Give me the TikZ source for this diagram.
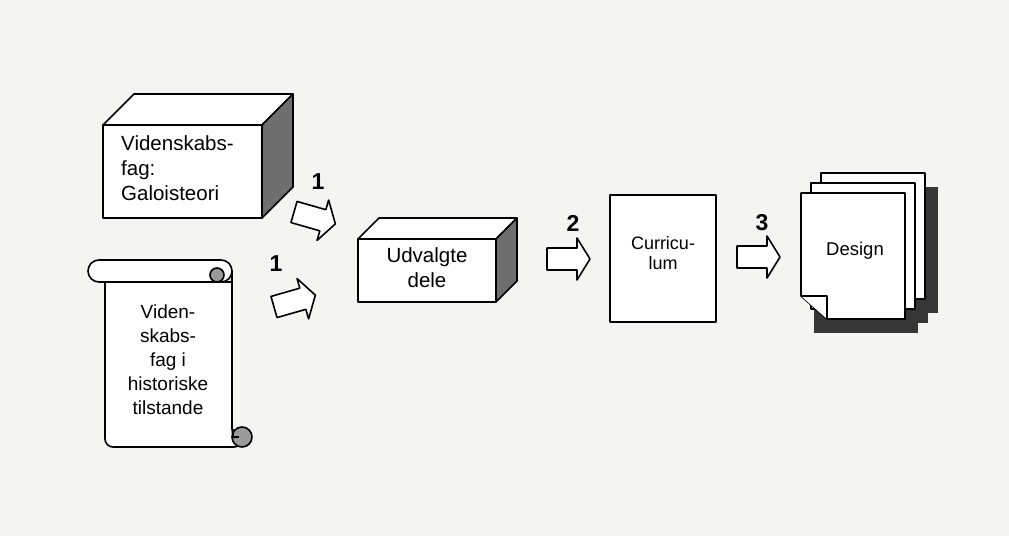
\documentclass[tikz,border=0pt]{standalone}
\usepackage{fontspec}
\setmainfont{Liberation Sans}
\definecolor{paper}{HTML}{F4F4F2}
\definecolor{sideface}{HTML}{6E6E6E}
\definecolor{curlgray}{HTML}{9A9A9A}
\definecolor{dropshadow}{HTML}{363636}
\tikzset{
  outline/.style={draw=black,line width=1.6pt,line join=round},
  boxtext/.style={inner sep=0pt,font=\fontsize{20.5}{25}\selectfont},
  scrolltext/.style={inner sep=0pt,align=center,font=\fontsize{19}{24}\selectfont},
  pagetext/.style={inner sep=0pt,align=center,font=\fontsize{18}{20}\selectfont},
  stepnum/.style={inner sep=0pt,font=\fontsize{23}{23}\selectfont\bfseries},
  blockarrow/.pic={\path[outline,fill=white] (0,-11) -- (30,-11) -- (30,-21) -- (43,0) -- (30,21) -- (30,11) -- (0,11) -- cycle;}
}
\begin{document}
\begin{tikzpicture}[x=1pt,y=-1pt]
\useasboundingbox (0,0) rectangle (1009,536);
\path[fill=paper] (0,0) rectangle (1009,536);
% box: Galoisteori
\path[outline,fill=white] (103,125) -- (134,94) -- (293,94) -- (262,125) -- cycle;
\path[outline,fill=sideface] (262,125) -- (293,94) -- (293,187) -- (262,218) -- cycle;
\path[outline,fill=white] (103,125) rectangle (262,218);
\node[boxtext,align=left,anchor=west] (galois) at (121,168) {Videnskabs-\\fag:\\Galoisteori};
% scroll
\path[outline,fill=white,rounded corners=8] (105,282) -- (105,447) -- (242,447) -- (232,437) [sharp corners] -- (232,282) -- cycle;
\path[outline,fill=curlgray] (242,437) circle (10);
\path[draw=black,line width=1.2pt] (233,429) -- (233,437) -- (239,437);
\path[outline,fill=white,rounded corners=11] (88,282) -- (88,260) -- (232,260) -- (232,282) -- cycle;
\path[draw=black,line width=1.6pt] (232,270) -- (232,290);
\path[outline,fill=curlgray] (217,275) circle (7);
\node[scrolltext] (history) at (168,360) {Viden-\\skabs-\\fag i\\historiske\\tilstande};
% box: Udvalgte dele
\path[outline,fill=white] (358,239) -- (379,218) -- (517,218) -- (496,239) -- cycle;
\path[outline,fill=sideface] (496,239) -- (517,218) -- (517,281) -- (496,302) -- cycle;
\path[outline,fill=white] (358,239) rectangle (496,302);
\node[boxtext,align=center] (parts) at (427,268) {Udvalgte\\dele};
% curriculum
\path[outline,fill=white] (610,195) rectangle (716,322);
\node[pagetext] (curric) at (663,253) {Curricu-\\lum};
% design pages
\foreach \k in {2,1,0}
  \path[fill=dropshadow] ({814+10*\k},{207-10*\k}) rectangle ({918+10*\k},{333-10*\k});
\foreach \k in {2,1}
  \path[outline,fill=white] ({801+10*\k},{193-10*\k}) rectangle ({905+10*\k},{319-10*\k});
\path[outline,fill=white] (801,193) -- (905,193) -- (905,319) -- (827,319) -- (801,296) -- cycle;
\path[outline,fill=white] (801,296) -- (827,296) -- (827,319);
\node[pagetext,font=\fontsize{18.5}{20}\selectfont] (design) at (855,251) {Design};
% arrows
\pic[rotate=-16] at (294,212) {blockarrow};
\pic[rotate=16] at (274,307) {blockarrow};
\pic at (547,259) {blockarrow};
\pic at (737,257) {blockarrow};
\node[stepnum] (one) at (318,182) {1};
\node[stepnum] (oneb) at (276,264) {1};
\node[stepnum] (two) at (573,223) {2};
\node[stepnum] (three) at (762,223) {3};
\end{tikzpicture}
\end{document}
